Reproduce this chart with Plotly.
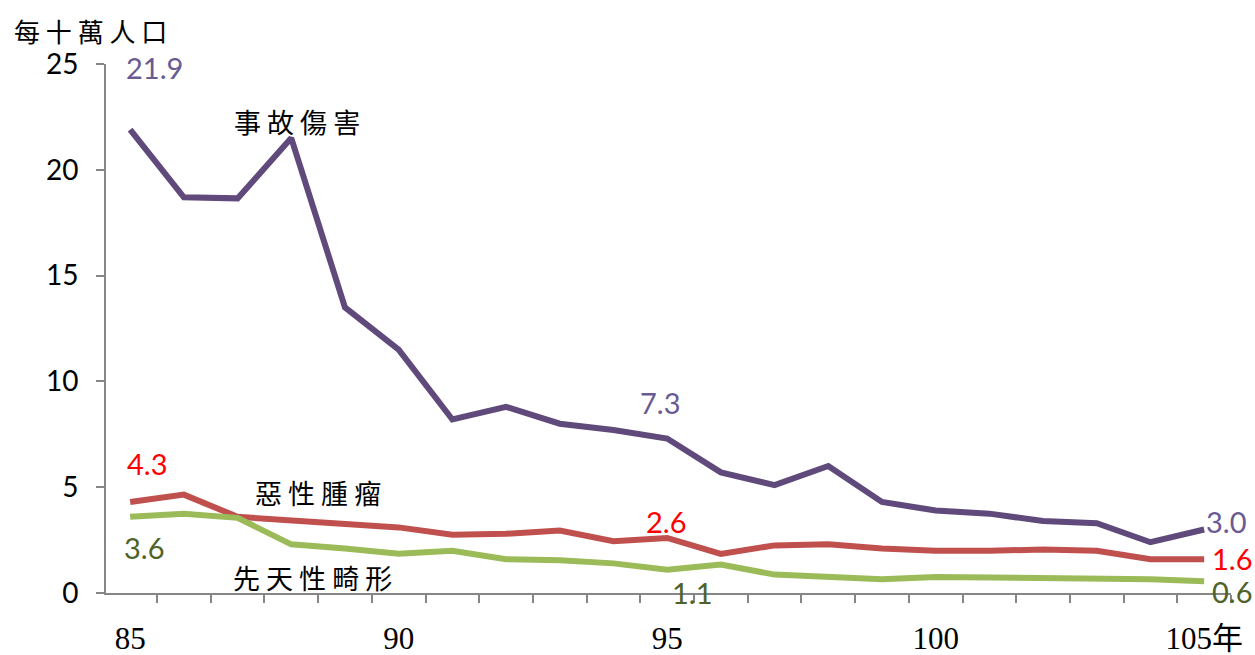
import plotly.graph_objects as go

years = list(range(85, 106))
accident = [21.9, 18.7, 18.65, 21.5, 13.5, 11.5, 8.2, 8.8, 8.0, 7.7, 7.3, 5.7, 5.1, 6.0, 4.3, 3.9, 3.75, 3.4, 3.3, 2.4, 3.0]
cancer = [4.3, 4.65, 3.6, 3.45, 3.3, 3.1, 2.75, 2.8, 2.95, 2.45, 2.6, 1.85, 2.25, 2.3, 2.1, 2.0, 2.0, 2.05, 2.0, 1.6, 1.6]
congenital = [3.6, 3.75, 3.55, 2.3, 2.1, 1.85, 2.0, 1.6, 1.55, 1.4, 1.1, 1.35, 0.87, 0.75, 0.65, 0.76, 0.74, 0.72, 0.74, 0.65, 0.55]
series_names = ["事 故 傷 害", "惡 性 腫 瘤", "先 天 性 畸 形"]
x_tick_vals = [85, 90, 95, 100, 105]
x_tick_text = ["85", "90", "95", "100", "105年"]
y_title = "每 十 萬 人 口"

PURPLE = "#604A7B"
RED = "#C0504D"
GREEN = "#9BBB59"
LBL_PURPLE = "#6A5A94"
LBL_RED = "#FF0000"
LBL_GREEN = "#4F6228"
AXIS = "#868686"
NUMFONT = "Lato, Open Sans, sans-serif"
CJK = "Noto Sans CJK TC"

fig = go.Figure()
for ys, col in [(accident, PURPLE), (cancer, RED), (congenital, GREEN)]:
    fig.add_trace(go.Scatter(x=years, y=ys, mode="lines",
                             line=dict(color=col, width=6), showlegend=False,
                             hoverinfo="skip", cliponaxis=False))

def idx(y):
    return years.index(y)

labels = [
    (85, accident, LBL_PURPLE, 24, 62),
    (95, accident, LBL_PURPLE, -7, 36),
    (105, accident, LBL_PURPLE, 22, 8),
    (85, cancer, LBL_RED, 17, 39),
    (95, cancer, LBL_RED, -1, 16),
    (105, cancer, LBL_RED, 28, 1),
    (85, congenital, LBL_GREEN, 14, -31),
    (95, congenital, LBL_GREEN, 25, -23),
    (105, congenital, LBL_GREEN, 28, -10),
]
for yr, ser, col, xs, ysh in labels:
    v = ser[idx(yr)]
    fig.add_annotation(x=yr, y=v, xref="x", yref="y", text=f"{v:.1f}",
                       showarrow=False, xshift=xs, yshift=ysh,
                       font=dict(family=NUMFONT, size=29, color=col))

name_pos = [(88.1, 22.3), (88.5, 4.73), (88.4, 0.71)]
for name, (nx, ny) in zip(series_names, name_pos):
    fig.add_annotation(x=nx, y=ny, xref="x", yref="y", text=name, showarrow=False,
                       font=dict(family=CJK, size=27, color="black"))

fig.add_annotation(x=-0.014, y=1.064, xref="paper", yref="paper", text=y_title,
                   showarrow=False, xanchor="center", yanchor="middle",
                   font=dict(family=CJK, size=26, color="black"))

fig.update_layout(
    width=1255, height=655,
    margin=dict(l=106, r=24, t=64, b=62),
    paper_bgcolor="white", plot_bgcolor="white",
    xaxis=dict(range=[84.55, 105.5], tickvals=x_tick_vals, ticktext=x_tick_text,
               ticks="", showgrid=False, zeroline=False, showline=True,
               linecolor=AXIS, linewidth=2, ticklabelstandoff=17, automargin=False,
               tickfont=dict(family="Liberation Serif, " + CJK, size=31, color="black"),
               minor=dict(ticks="outside", tick0=84.5, dtick=1, ticklen=8,
                          tickwidth=2, tickcolor=AXIS, showgrid=False)),
    yaxis=dict(range=[0, 25], tickvals=[0, 5, 10, 15, 20, 25], ticks="outside",
               ticklen=8, tickwidth=2, tickcolor=AXIS, showgrid=False,
               zeroline=False, showline=True, linecolor=AXIS, linewidth=2,
               ticklabelstandoff=12, automargin=False,
               tickfont=dict(family=NUMFONT, size=28, color="black")),
)

fig.write_html("out.html", config={"displayModeBar": False},
               post_script="document.body.style.margin='0';document.body.style.overflow='hidden';")
